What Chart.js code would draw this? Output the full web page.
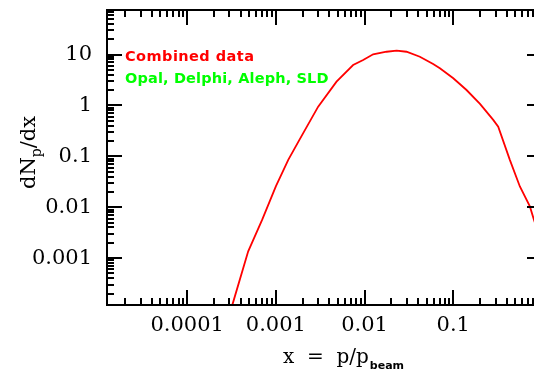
<!DOCTYPE html>
<html>
<head>
<meta charset="utf-8">
<script src="https://cdn.jsdelivr.net/npm/chart.js@4/dist/chart.umd.min.js"></script>
<style>
  html, body { margin: 0; padding: 0; background: #fff; overflow: hidden; }
  #wrap { position: relative; width: 560px; height: 381px; }
</style>
</head>
<body>
<div id="wrap"><canvas id="spectrum" width="560" height="381"></canvas></div>
<script>
// scaled momentum x = p/p_beam and the combined spectrum dN/dx
const xValues = [2.88e-4, 3.24e-4, 4.88e-4, 7.02e-4, 1.0e-3, 1.38e-3, 1.87e-3, 3.0e-3,
  4.83e-3, 7.43e-3, 9.64e-3, 0.0125, 0.0177, 0.0230, 0.0297, 0.0420, 0.0593, 0.0706,
  0.1, 0.141, 0.2, 0.282, 0.321, 0.434, 0.563, 0.730, 0.811, 0.95];
const dndx = [6.2e-5, 1.22e-4, 1.36e-3, 5.69e-3, 0.0256, 0.0853, 0.220, 0.947,
  2.93, 6.22, 7.8, 10.1, 11.35, 11.9, 11.35, 9.05, 6.52, 5.36,
  3.41, 2.01, 1.07, 0.52, 0.384, 0.0853, 0.0256, 0.0104, 0.00569, 0.0025];

const xTicks = [0.0001, 0.001, 0.01, 0.1];
const xTickLabels = ['0.0001', '0.001', '0.01', '0.1'];
const yTicks = [0.001, 0.01, 0.1, 1, 10];
const yTickLabels = ['0.001', '0.01', '0.1', '1', '10'];
const xRange = [1.25e-5, 1];
const yRange = [1.2e-4, 75];
const legendLines = ['Combined data', 'Opal, Delphi, Aleph, SLD'];

const serif = '"DejaVu Serif", "Liberation Serif", serif';

// log tick positions: 1..9 times each power of ten inside [lo, hi]
function logMarks(lo, hi) {
  const out = [];
  for (let e = Math.floor(Math.log10(lo)); e <= Math.ceil(Math.log10(hi)); e++) {
    for (let m = 1; m <= 9; m++) {
      const v = m * Math.pow(10, e);
      if (v >= lo * 0.999 && v <= hi * 1.001) out.push({ v, major: m === 1 });
    }
  }
  return out;
}

const frame = {
  id: 'frame',
  afterDatasetsDraw(chart) {
    const { ctx, chartArea: a, scales } = chart;
    ctx.save();
    ctx.strokeStyle = '#000';
    ctx.lineWidth = 2;
    ctx.strokeRect(a.left, a.top, a.right - a.left, a.bottom - a.top);

    ctx.beginPath();
    logMarks(xRange[0], xRange[1]).forEach(t => {
      const px = Math.round(scales.x.getPixelForValue(t.v));
      const len = t.major ? 15 : 7;
      ctx.moveTo(px, a.bottom); ctx.lineTo(px, a.bottom - len);
      ctx.moveTo(px, a.top); ctx.lineTo(px, a.top + len);
    });
    logMarks(yRange[0], yRange[1]).forEach(t => {
      const py = Math.round(scales.y.getPixelForValue(t.v));
      const len = t.major ? 15 : 7;
      ctx.moveTo(a.left, py); ctx.lineTo(a.left + len, py);
      ctx.moveTo(a.right, py); ctx.lineTo(a.right - len, py);
    });
    ctx.stroke();

    // legend text
    ctx.font = 'bold 14.5px "DejaVu Sans", sans-serif';
    ctx.textAlign = 'left';
    ctx.textBaseline = 'alphabetic';
    ctx.letterSpacing = '0.45px';
    ctx.fillStyle = '#ff0000';
    ctx.fillText(legendLines[0], a.left + 18, a.top + 51);
    ctx.letterSpacing = '0.15px';
    ctx.fillStyle = '#00ff00';
    ctx.fillText(legendLines[1], a.left + 18, a.top + 73);
    ctx.letterSpacing = '0px';

    // x axis title: x = p/p_beam
    ctx.fillStyle = '#000';
    ctx.font = '20px ' + serif;
    let x0 = a.left + 176;
    const yb = 363;
    const main = 'x  =  p/p';
    ctx.fillText(main, x0, yb);
    x0 += ctx.measureText(main).width;
    ctx.font = 'bold 11px "DejaVu Sans", sans-serif';
    ctx.fillText('beam', x0 + 1, yb + 6);

    // y axis title: dN_p/dx
    ctx.translate(35, 189);
    ctx.rotate(-Math.PI / 2);
    ctx.font = '21px ' + serif;
    ctx.fillText('dN', 0, 0);
    let w = ctx.measureText('dN').width;
    ctx.font = '14px ' + serif;
    ctx.fillText('p', w, 6);
    w += ctx.measureText('p').width;
    ctx.font = '21px ' + serif;
    ctx.fillText('/dx', w, 0);
    ctx.restore();
  }
};

new Chart(document.getElementById('spectrum'), {
  type: 'line',
  data: {
    datasets: [{
      data: xValues.map((x, i) => ({ x, y: dndx[i] })),
      borderColor: '#ff0000',
      borderWidth: 1.8,
      pointRadius: 0,
      tension: 0,
      fill: false
    }]
  },
  options: {
    responsive: false,
    devicePixelRatio: 1,
    animation: false,
    layout: { padding: { top: 10, right: 18, left: 0, bottom: 0 } },
    plugins: { legend: { display: false }, tooltip: { enabled: false } },
    scales: {
      x: {
        type: 'logarithmic',
        min: xRange[0],
        max: xRange[1],
        grid: { display: false, drawTicks: false },
        border: { display: false },
        afterBuildTicks: s => { s.ticks = xTicks.map(v => ({ value: v })); },
        afterFit: s => { s.height = 76; s.paddingLeft = 0; s.paddingRight = 0; },
        ticks: {
          autoSkip: false,
          maxRotation: 0,
          padding: 8,
          color: '#000',
          font: { family: serif, size: 21 },
          callback: (v, i) => xTickLabels[i]
        }
      },
      y: {
        type: 'logarithmic',
        min: yRange[0],
        max: yRange[1],
        grid: { display: false, drawTicks: false },
        border: { display: false },
        afterBuildTicks: s => { s.ticks = yTicks.map(v => ({ value: v })); },
        afterFit: s => { s.width = 107; s.paddingTop = 0; s.paddingBottom = 0; },
        ticks: {
          autoSkip: false,
          padding: 15,
          color: '#000',
          font: { family: serif, size: 21 },
          callback: (v, i) => yTickLabels[i]
        }
      }
    }
  },
  plugins: [frame]
});
</script>
</body>
</html>
